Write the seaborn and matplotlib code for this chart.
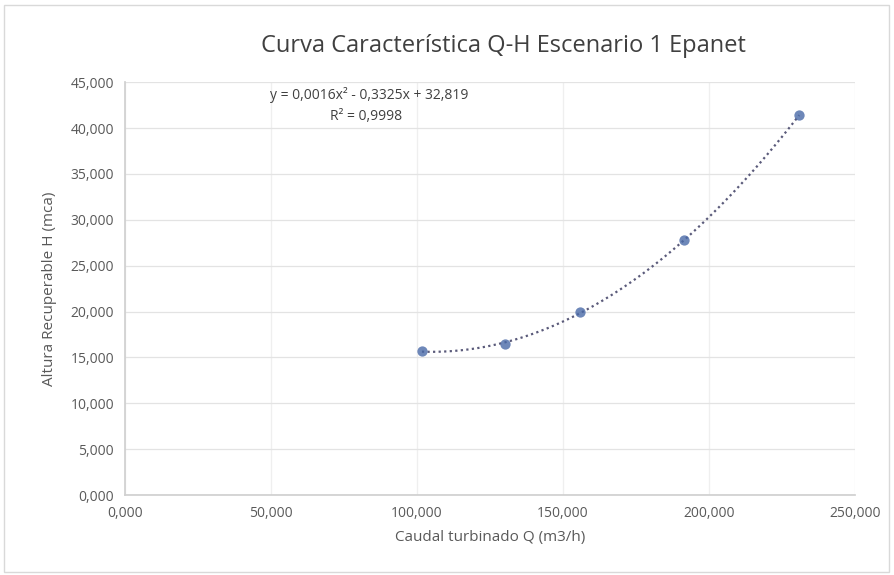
import numpy as np
import pandas as pd
import matplotlib
matplotlib.use("Agg")
import matplotlib.pyplot as plt
import matplotlib.ticker as mticker
import seaborn as sns

# Data (comma = decimal separator)
caudal = [101.7, 130.0, 155.8, 191.6, 231.0]
altura = [15.70, 16.45, 19.95, 27.80, 41.40]
x_ticks = [0, 50, 100, 150, 200, 250]
y_ticks = [0, 5, 10, 15, 20, 25, 30, 35, 40, 45]

df = pd.DataFrame({"Q": caudal, "H": altura})

sns.set_theme(style="white")
plt.rcParams["font.family"] = ["Open Sans", "DejaVu Sans"]

fig = plt.figure(figsize=(8.94, 5.75), dpi=100)
ax = fig.add_axes([0.14, 0.139, 0.816, 0.718])

sns.regplot(data=df, x="Q", y="H", order=2, ci=None, ax=ax, truncate=True,
            scatter_kws={"s": 55, "color": "#4a6aa8", "zorder": 3, "linewidths": 0},
            line_kws={"color": "#5a5a7a", "ls": (0, (1, 1.5)), "lw": 1.6, "zorder": 2})

ax.set_xlim(0, 250)
ax.set_ylim(0, 45)
ax.set_xticks(x_ticks)
ax.set_yticks(y_ticks)
fmt = mticker.FuncFormatter(lambda v, p: f"{v:.3f}".replace(".", ","))
ax.xaxis.set_major_formatter(fmt)
ax.yaxis.set_major_formatter(fmt)
ax.tick_params(colors="#595959", labelsize=10, length=0, pad=8)
ax.yaxis.grid(True, color="#e3e3e3", lw=0.9)
ax.xaxis.grid(True, color="#efefef", lw=0.9)
for s in ["top", "right"]:
    ax.spines[s].set_visible(False)
for s in ["left", "bottom"]:
    ax.spines[s].set_color("#d0d0d0")

ax.set_xlabel("Caudal turbinado Q (m3/h)", color="#595959", fontsize=11, labelpad=6)
ax.set_ylabel("Altura Recuperable H (mca)", color="#595959", fontsize=11, labelpad=10)
fig.text(0.563, 0.92, "Curva Característica Q-H Escenario 1 Epanet",
         ha="center", va="center", fontsize=17, color="#404040")

# trendline equation from the chart
ax.text(0.335, 0.968, "y = 0,0016x² - 0,3325x + 32,819", transform=ax.transAxes,
        ha="center", va="center", fontsize=10, color="#404040")
ax.text(0.33, 0.918, "R² = 0,9998", transform=ax.transAxes,
        ha="center", va="center", fontsize=10, color="#404040")

fig.patches.append(plt.Rectangle((0.004, 0.006), 0.99, 0.985, transform=fig.transFigure,
                                 fill=False, edgecolor="#d9d9d9", lw=1))

fig.savefig("out.png", dpi=100)
